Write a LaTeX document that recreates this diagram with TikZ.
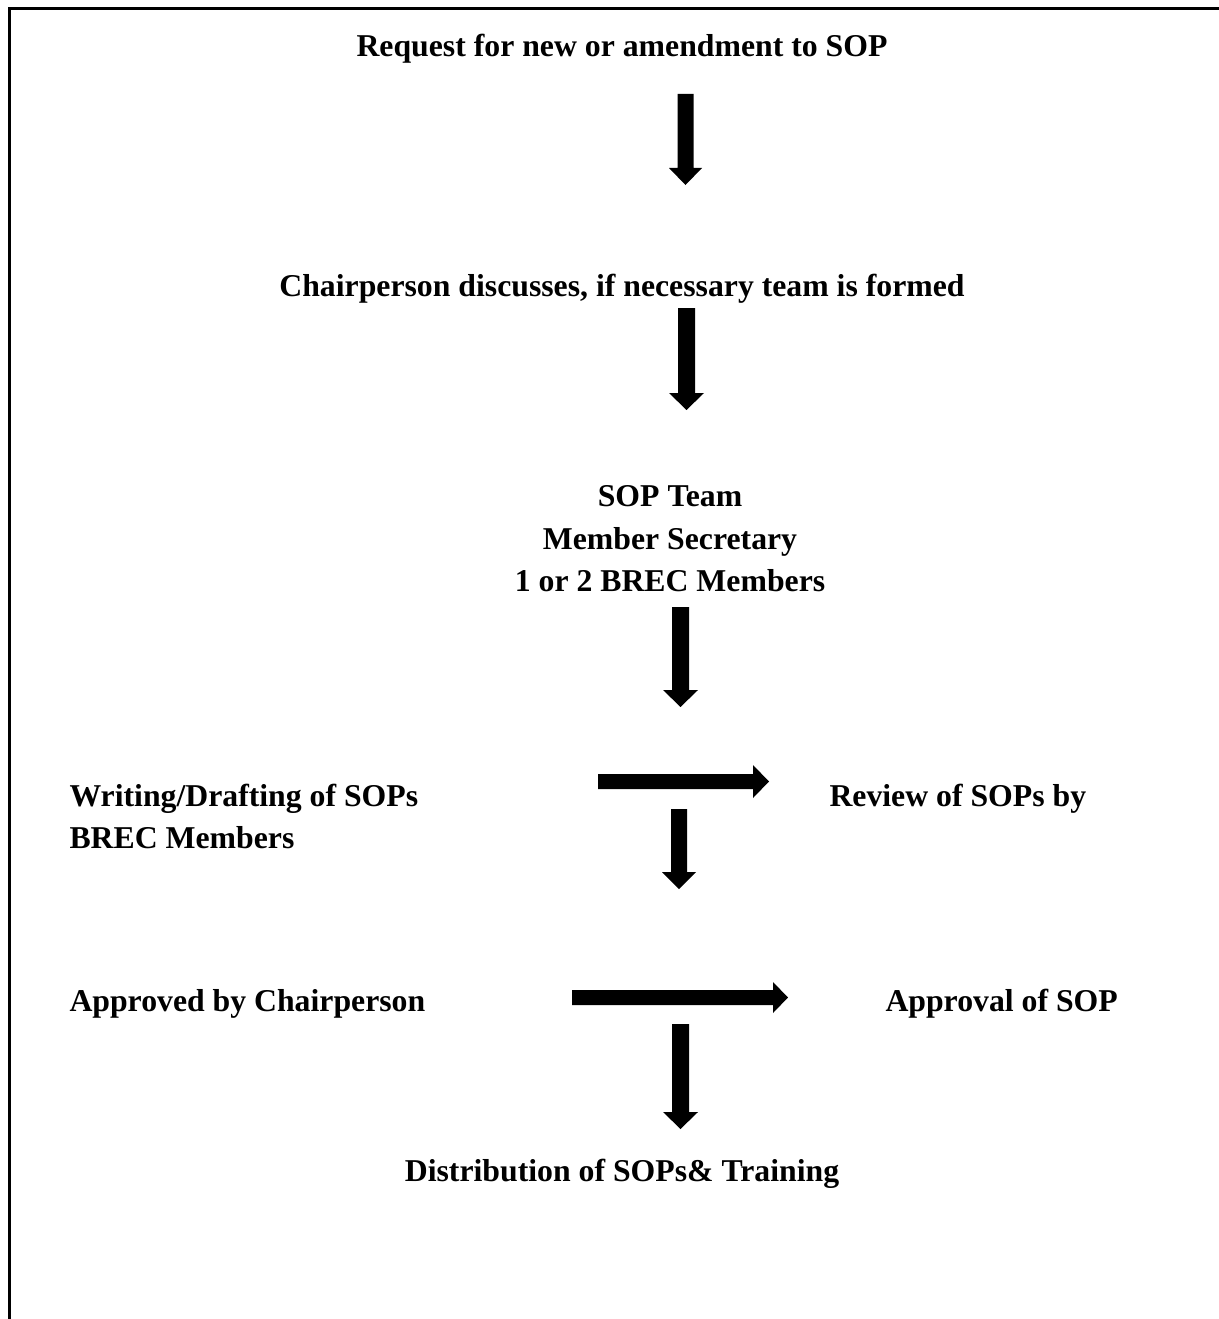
\documentclass[tikz,border=0pt]{standalone}
\usepackage{fontspec}
\setmainfont{Liberation Serif}
\tikzset{
  lbl/.style={font=\bfseries\fontsize{12.7}{15}\selectfont, inner sep=0pt, anchor=base},
  lbll/.style={lbl, anchor=base west},
  blk/.style={fill=black, draw=none},
  frame/.style={line width=1.2pt, line cap=rect}
}
% vertical block arrow: centre x, top, head base, tip, shaft half width, head half width
\newcommand{\downblock}[6]{%
  \fill[blk] ({#1-#5},#2) -- ({#1+#5},#2) -- ({#1+#5},#3) -- ({#1+#6},#3)
    -- (#1,#4) -- ({#1-#6},#3) -- ({#1-#5},#3) -- cycle;}
% horizontal block arrow: centre y, left, head base, tip, shaft half width, head half width
\newcommand{\rightblock}[6]{%
  \fill[blk] (#2,{#1-#5}) -- (#3,{#1-#5}) -- (#3,{#1-#6}) -- (#4,#1)
    -- (#3,{#1+#6}) -- (#3,{#1+#5}) -- (#2,{#1+#5}) -- cycle;}
\begin{document}
\begin{tikzpicture}[x=0.4pt,y=-0.4pt]
\useasboundingbox (0,0) rectangle (1219,1319);
% page frame (top and left edges)
\draw[frame] (1219,8.5) -- (9,8.5) -- (9,1319);

% steps
\node[lbl] (req) at (622,57) {Request for new or amendment to SOP};
\node[lbl] (chair) at (622,296) {Chairperson discusses, if necessary team is formed};
\node[lbl] (team1) at (670,506) {SOP Team};
\node[lbl] (team2) at (670,549) {Member Secretary};
\node[lbl] (team3) at (670,591) {1 or 2 BREC Members};
\node[lbll] (write1) at (69,806) {Writing/Drafting of SOPs};
\node[lbll] (write2) at (69,848) {BREC Members};
\node[lbll] (review) at (829,806) {Review of SOPs by};
\node[lbll] (appr) at (69,1011) {Approved by Chairperson};
\node[lbll] (approval) at (885,1011) {Approval of SOP};
\node[lbl] (dist) at (622,1181) {Distribution of SOPs\& Training};

% block arrows
\downblock{685.5}{94}{168}{185}{8}{16.5}
\downblock{686.5}{308}{393}{410}{8.5}{17.5}
\downblock{680.5}{607}{690}{707}{8.5}{17.5}
\rightblock{781.5}{598}{753}{769}{7.5}{16.5}
\downblock{679}{809}{872}{889}{8}{17}
\rightblock{997.5}{572}{773}{788}{7.5}{15.5}
\downblock{680.5}{1024}{1112}{1129}{8.5}{17.5}
\end{tikzpicture}
\end{document}
